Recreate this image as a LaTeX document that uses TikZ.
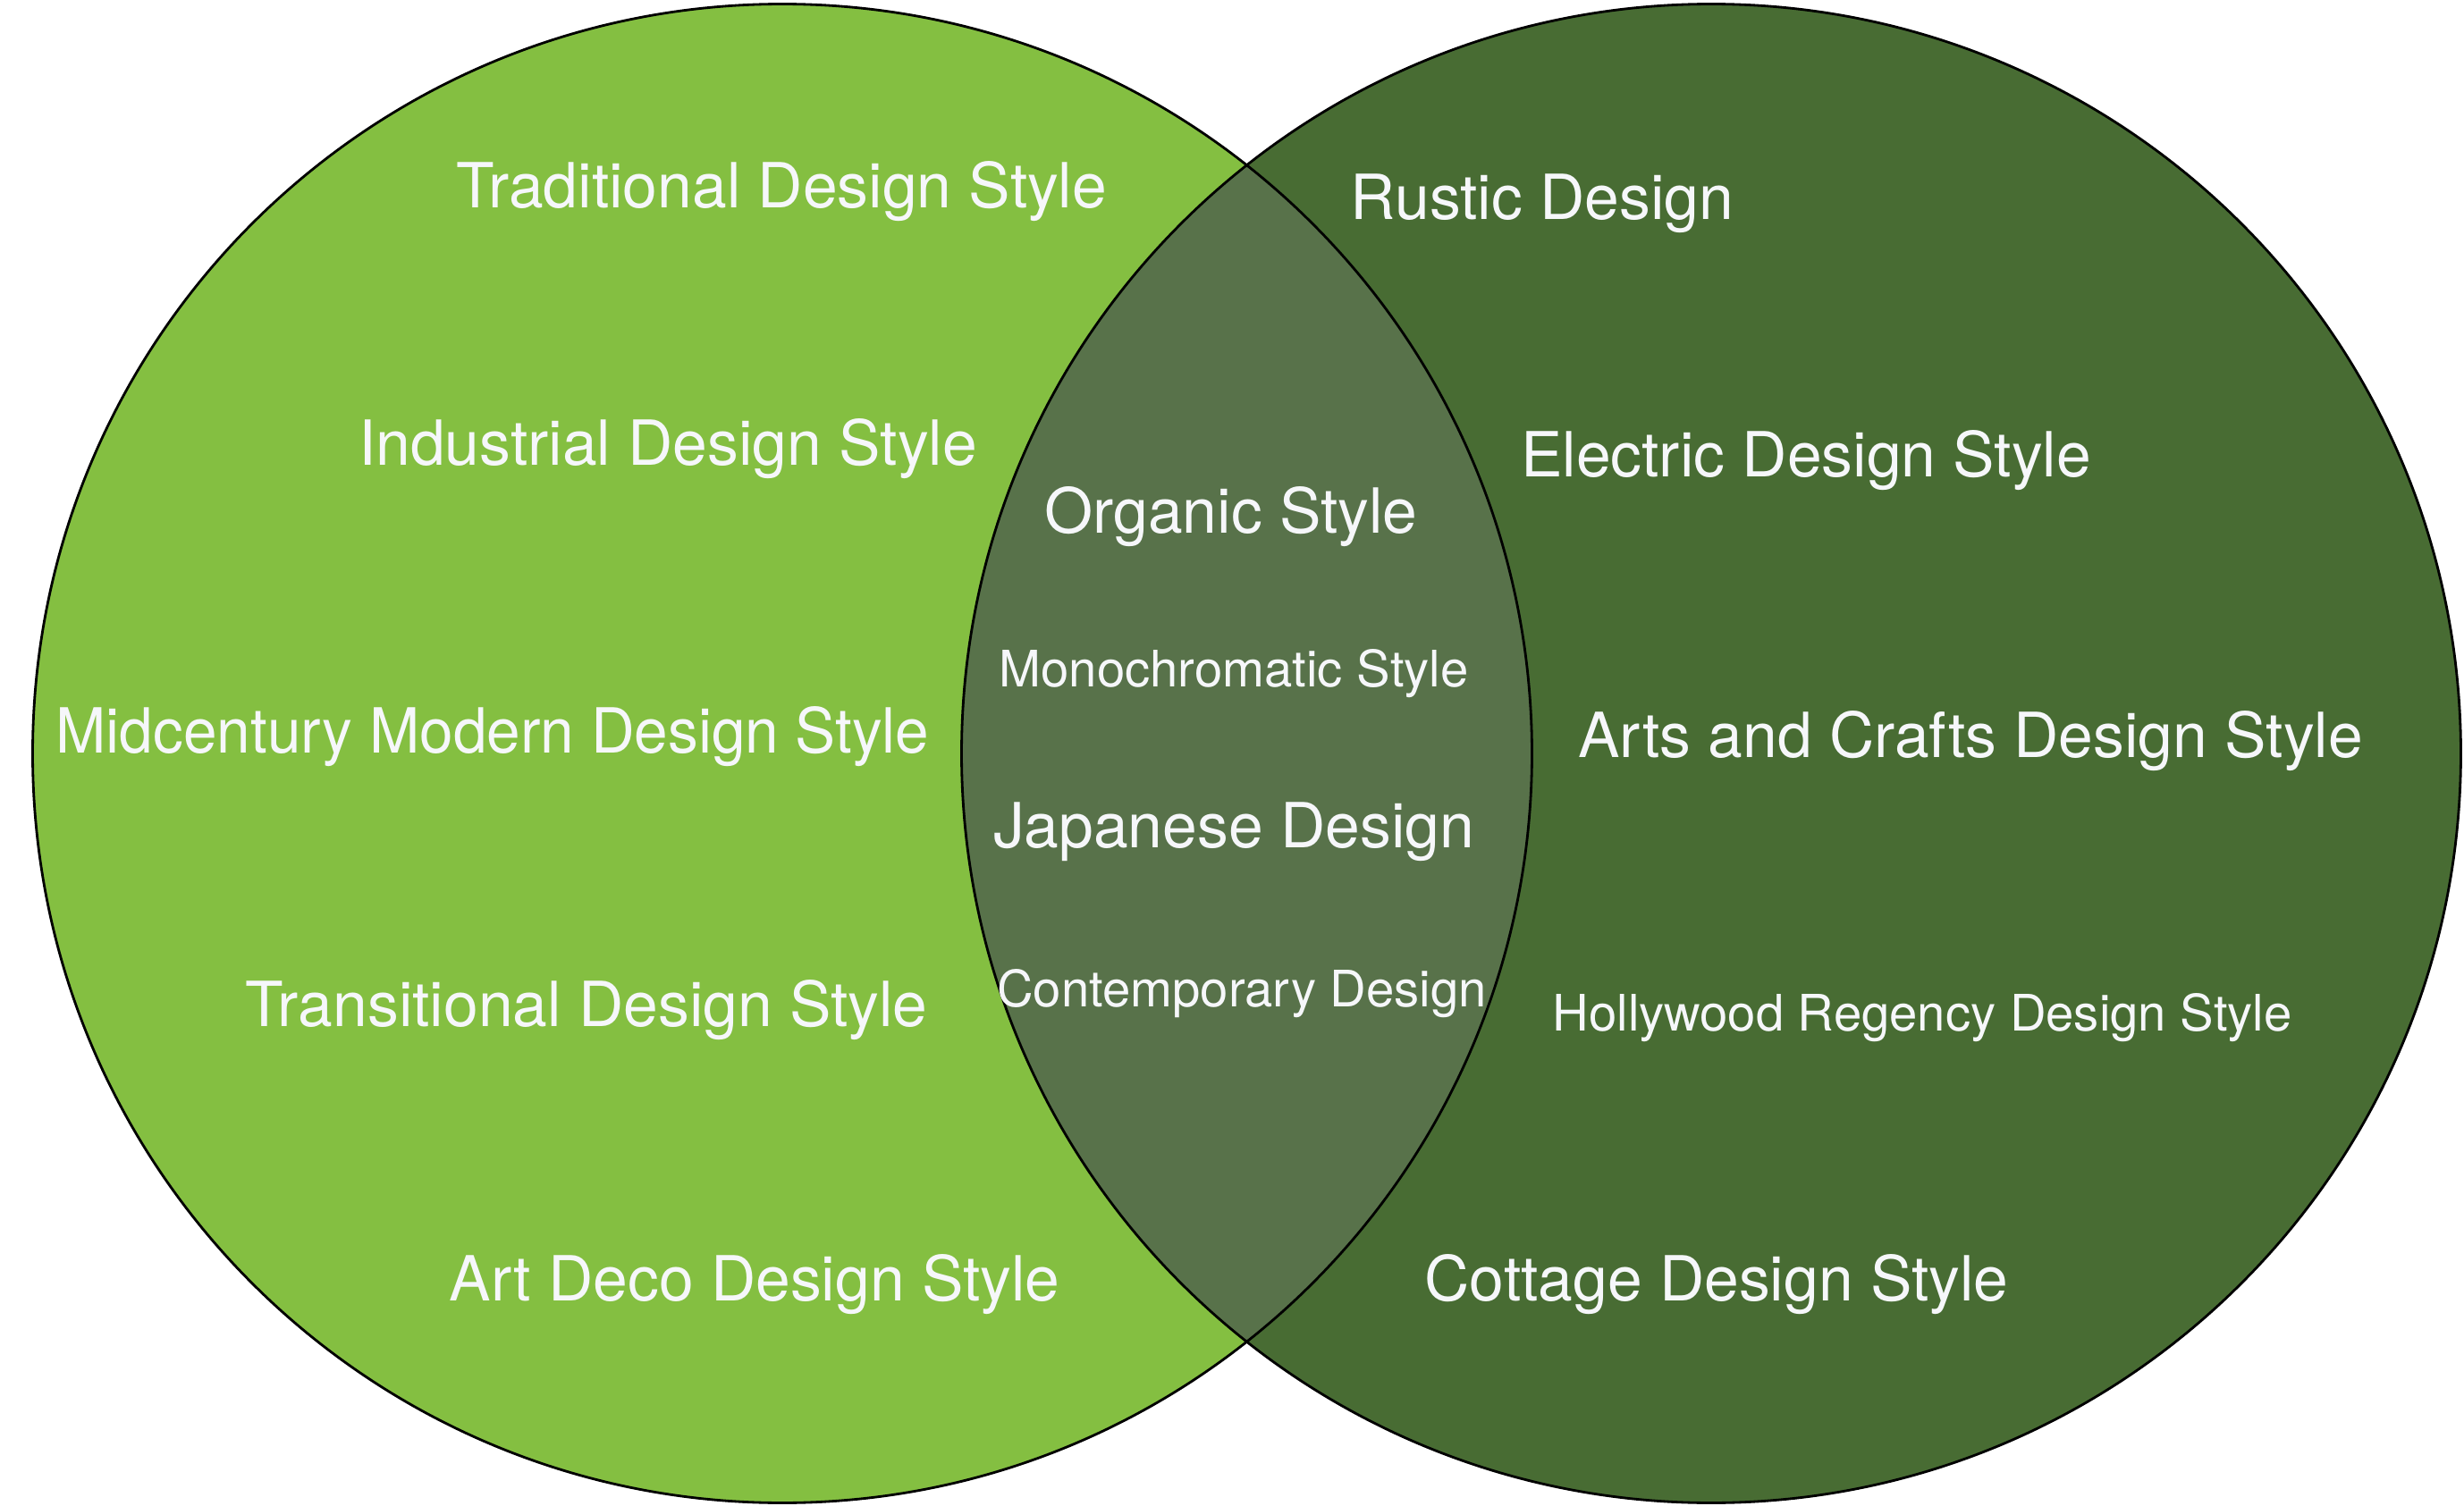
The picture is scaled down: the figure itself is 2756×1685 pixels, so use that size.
\documentclass[tikz,border=0pt]{standalone}
\usepackage{fontspec}
\setmainfont{TeX Gyre Heros}
\definecolor{leftgreen}{RGB}{132,191,65}
\definecolor{rightgreen}{RGB}{72,108,51}
\definecolor{lensgreen}{RGB}{88,114,74}
\definecolor{labelwhite}{RGB}{246,247,250}

\begin{document}
\begin{tikzpicture}[x=0.01cm,y=-0.01cm,
        big style/.style={text=labelwhite,inner sep=0pt,font=\fontsize{19.8}{24}\selectfont},
        small style/.style={text=labelwhite,inner sep=0pt,font=\fontsize{16}{19}\selectfont}]
        \useasboundingbox (0,0) rectangle (2756,1685);
        \coordinate (cl) at (875,843);
        \coordinate (cr) at (1914,843);
        % the two sets and their overlap
        \fill[leftgreen] (cl) circle[radius=8.38cm];
        \fill[rightgreen] (cr) circle[radius=8.38cm];
        \begin{scope}
            \clip (cl) circle[radius=8.38cm];
            \fill[lensgreen] (cr) circle[radius=8.38cm];
        \end{scope}
        \draw[line width=0.8pt] (cl) circle[radius=8.38cm] (cr) circle[radius=8.38cm];
        % left only
        \node[big style] (trad) at (874,214) {Traditional Design Style};
        \node[big style] (indu) at (747,502) {Industrial Design Style};
        \node[big style,xscale=0.97] (midc) at (551,824) {Midcentury Modern Design Style};
        \node[big style] (tran) at (656,1130) {Transitional Design Style};
        \node[big style] (deco) at (844,1437) {Art Deco Design Style};
        % both
        \node[big style] (orga) at (1377,578) {Organic Style};
        \node[small style] (mono) at (1380,754) {Monochromatic Style};
        \node[big style] (japa) at (1380,931) {Japanese Design};
        \node[small style] (cont) at (1389,1112) {Contemporary Design};
        % right only
        \node[big style] (rust) at (1725,228) {Rustic Design};
        \node[big style] (elec) at (2020,515) {Electric Design Style};
        \node[big style] (arts) at (2204,829) {Arts and Crafts Design Style};
        \node[small style] (holl) at (2150,1139) {Hollywood Regency Design Style};
        \node[big style] (cott) at (1920,1437) {Cottage Design Style};
\end{tikzpicture}
\end{document}
